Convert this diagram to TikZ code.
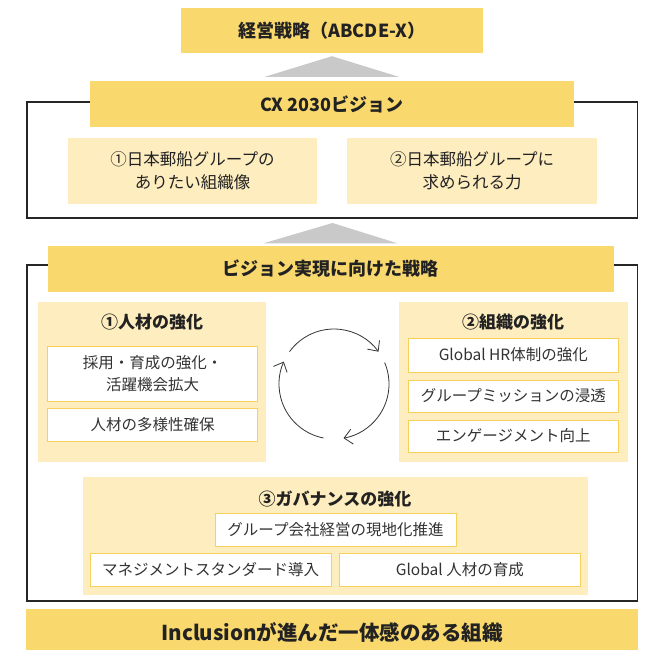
\documentclass[tikz,border=0pt]{standalone}
\usepackage{fontspec}
\setmainfont{Noto Sans CJK JP}
\usetikzlibrary{calc,arrows.meta}

\definecolor{bandyellow}{HTML}{F9D86E}
\definecolor{paleyellow}{HTML}{FDEDBF}
\definecolor{itemline}{HTML}{F7D15C}
\definecolor{liftgray}{HTML}{C9C9C9}
\definecolor{inktext}{HTML}{222222}

\begin{document}
\begin{tikzpicture}[x=1pt,y=-1pt,
    band/.style={fill=bandyellow, inner sep=0pt, text=inktext,
      font=\fontsize{18}{22}\selectfont\bfseries},
    panel/.style={fill=paleyellow, inner sep=0pt},
    paneltext/.style={panel, align=center, text=inktext,
      font=\fontsize{16.5}{23}\selectfont},
    head/.style={inner sep=0pt, text=inktext,
      font=\fontsize{17}{20}\selectfont\bfseries},
    item/.style={draw=itemline, line width=1pt, fill=white, inner sep=0pt,
      align=center, text=black!80, font=\fontsize{15.5}{22}\selectfont},
    lift/.style={fill=liftgray},
    outline/.style={draw=black!85, line width=1.1pt},
    turn/.style={draw=black!80, line width=0.8pt,
      -{Straight Barb[length=8pt,width=15pt]}}]

  \useasboundingbox (0,0) rectangle (648,650);

  % ================= geometry =================
  \def\R{55}                              % radius of the cycle
  \coordinate (hub)  at (334,384);        % centre of the cycle
  \coordinate (fr1b) at (332.5,218);      % bottom of the vision frame

  % ================= frames =================
  \draw[outline] (27,102) rectangle (637.5,218);
  \draw[outline] (27,265) rectangle (637.5,601);

  % ================= management strategy & vision =================
  \node[band, minimum width=302, minimum height=45] (mgmt) at (332,30.5) {経営戦略（ABCDE-X）};
  \node[band, minimum width=484, minimum height=46] (cx)   at (331.8,104) {CX 2030ビジョン};
  \fill[lift] ($(cx.north)+(-67,-4)$) -- ($(mgmt.south)+(0,3)$) -- ($(cx.north)+(67,-4)$) -- cycle;

  \node[paneltext, minimum width=249, minimum height=66] (ideal) at (192.5,171)
      {①日本郵船グループの\\ありたい組織像};
  \node[paneltext, minimum width=250, minimum height=66] (needs) at (472,171)
      {②日本郵船グループに\\求められる力};

  % ================= strategy band =================
  \node[band, minimum width=566, minimum height=46] (road) at (330.5,269) {ビジョン実現に向けた戦略};
  \fill[lift] ($(road.north)+(-67,-2.5)$) -- ($(fr1b)+(0,5)$) -- ($(road.north)+(67,-2.5)$) -- cycle;

  % ================= ① people =================
  \node[panel, minimum width=228.5, minimum height=160] (people) at (152.2,382) {};
  \node[head] (peoplehd) at (152,322) {①人材の強化};
  \node[item, minimum width=210.5, minimum height=55] (hire) at (152.7,373.5)
      {採用・育成の強化・\\活躍機会拡大};
  \node[item, minimum width=210.5, minimum height=33] (divers) at (152.7,424.5) {人材の多様性確保};

  % ================= ② organisation =================
  \node[panel, minimum width=229, minimum height=160] (org) at (513.5,382) {};
  \node[head] (orghd) at (513,322) {②組織の強化};
  \node[item, minimum width=210.6, minimum height=34] (ghr)     at (513.3,355) {Global HR体制の強化};
  \node[item, minimum width=210.6, minimum height=32] (mission) at (513.3,396) {グループミッションの浸透};
  \node[item, minimum width=210.6, minimum height=32] (engage)  at (513.3,436) {エンゲージメント向上};

  % ================= cycle =================
  \draw[turn] ($(hub)+(-144:\R)$) arc[start angle=-144, end angle=-36,  radius=\R];
  \draw[turn] ($(hub)+(-23:\R)$)  arc[start angle=-23,  end angle=80,   radius=\R];
  \draw[turn] ($(hub)+(101:\R)$)  arc[start angle=101,  end angle=204,  radius=\R];

  % ================= ③ governance =================
  \node[panel, minimum width=505, minimum height=118] (gov) at (335,536) {};
  \node[head] (govhd) at (335,499) {③ガバナンスの強化};
  \node[item, minimum width=241, minimum height=33] (local) at (335.5,529.5) {グループ会社経営の現地化推進};
  \node[item, minimum width=241.4, minimum height=33] (stdz) at (210.7,569.5) {マネジメントスタンダード導入};
  \node[item, minimum width=241.6, minimum height=33] (gtal) at (459.8,569.5) {Global 人材の育成};

  % ================= goal =================
  \node[band, minimum width=612.4, minimum height=48, font=\fontsize{20.5}{24}\selectfont\bfseries]
      (goal) at (332.2,633) {Inclusionが進んだ一体感のある組織};

\end{tikzpicture}
\end{document}
